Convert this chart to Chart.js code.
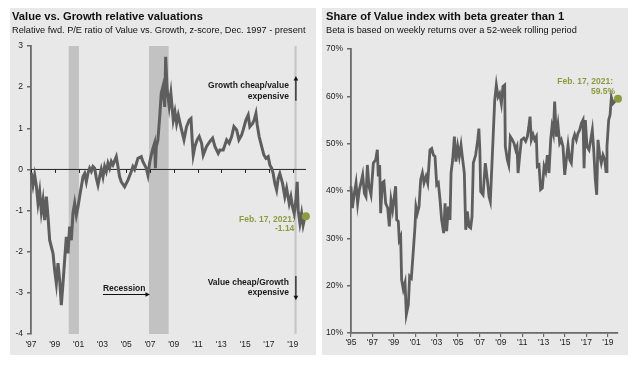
<!DOCTYPE html>
<html>
<head>
<meta charset="utf-8">
<script src="https://cdn.jsdelivr.net/npm/chart.js@4.4.1/dist/chart.umd.min.js"></script>
<style>
  body { margin: 0; background: #fff; width: 640px; height: 365px; position: relative; overflow: hidden;
         font-family: "Liberation Sans", Arial, sans-serif; }
  .panel { position: absolute; top: 8px; width: 306px; height: 347px; background: #e8e8e8; }
  #left-panel { left: 10px; }
  #right-panel { left: 322px; }
  .title { position: absolute; font-weight: bold; font-size: 11.2px; line-height: 13px; color: #111; white-space: nowrap; }
  .subtitle { position: absolute; font-size: 9.2px; line-height: 11px; color: #111; white-space: nowrap; }
  canvas { position: absolute; left: 0; top: 0; }
</style>
</head>
<body>
<div class="panel" id="left-panel">
  <canvas id="valuation-chart" width="306" height="347"></canvas>
  <div class="title" style="left:2px;top:2px">Value vs. Growth relative valuations</div>
  <div class="subtitle" style="left:2px;top:17px">Relative fwd. P/E ratio of Value vs. Growth, z-score, Dec. 1997 - present</div>
</div>
<div class="panel" id="right-panel">
  <canvas id="beta-chart" width="306" height="347"></canvas>
  <div class="title" style="left:4px;top:2px">Share of Value index with beta greater than 1</div>
  <div class="subtitle" style="left:4px;top:17px">Beta is based on weekly returns over a 52-week rolling period</div>
</div>

<script>
const FONT = '"Liberation Sans", Arial, sans-serif';
const OLIVE = "#8d9a3f";
const LINE_COLOR = "#5e5e5e";
const AXIS_COLOR = "#6a6a6a";

// ---- left chart data (x = position on the chart's year axis) ----
const valuationDates = [
  1997.02, 1997.17, 1997.31, 1997.45, 1997.59, 1997.73, 1997.87, 1998.01, 1998.15, 1998.29,
  1998.43, 1998.57, 1998.85, 1998.99, 1999.13, 1999.27, 1999.41, 1999.55, 1999.69, 1999.83,
  1999.97, 2000.11, 2000.25, 2000.39, 2000.53, 2000.67, 2000.81, 2000.95, 2001.09, 2001.23,
  2001.37, 2001.51, 2001.65, 2001.79, 2001.93, 2002.07, 2002.21, 2002.35, 2002.49, 2002.63,
  2002.77, 2002.91, 2003.05, 2003.19, 2003.33, 2003.47, 2003.61, 2003.75, 2003.89, 2004.17,
  2004.31, 2004.45, 2004.59, 2004.87, 2005.15, 2005.43, 2005.57, 2005.71, 2005.99, 2006.27,
  2006.41, 2006.55, 2006.69, 2006.83, 2006.97, 2007.11, 2007.25, 2007.39, 2007.46, 2007.53,
  2007.67, 2007.82, 2007.95, 2008.09, 2008.24, 2008.32, 2008.45, 2008.62, 2008.76, 2008.96,
  2009.10, 2009.24, 2009.38, 2009.66, 2009.86, 2010.08, 2010.30, 2010.45, 2010.55, 2010.64,
  2010.78, 2010.97, 2011.14, 2011.34, 2011.48, 2011.76, 2012.04, 2012.27, 2012.46, 2012.74,
  2012.88, 2013.16, 2013.45, 2013.66, 2013.87, 2014.06, 2014.29, 2014.48, 2014.71, 2014.84,
  2015.07, 2015.26, 2015.40, 2015.63, 2015.76, 2015.91, 2016.02, 2016.18, 2016.39, 2016.58,
  2016.75, 2016.94, 2017.08, 2017.23, 2017.36, 2017.50, 2017.65, 2017.78, 2017.92, 2018.15,
  2018.34, 2018.49, 2018.71, 2018.85, 2018.99, 2019.13, 2019.27, 2019.38, 2019.46, 2019.61,
  2019.75, 2019.88, 2020.03, 2020.11
];
const valuationValues = [
  -0.08, -0.38, -0.14, -0.40, -0.82, -0.54, -1.03, -0.75, -1.23, -0.66,
  -1.15, -1.72, -2.04, -2.45, -2.77, -2.28, -2.69, -3.30, -2.77, -2.20,
  -1.64, -2.04, -1.39, -1.72, -1.06, -0.82, -1.11, -0.91, -0.66, -0.42,
  -0.18, -0.10, -0.30, -0.09, 0.03, -0.05, 0.07, 0.03, -0.21, -0.38,
  -0.18, 0.00, -0.18, 0.07, -0.05, 0.15, 0.03, 0.19, 0.11, 0.31,
  0.07, -0.18, -0.30, -0.42, -0.26, -0.05, 0.07, 0.00, 0.27, 0.31,
  0.19, 0.11, 0.03, -0.14, 0.15, 0.35, 0.51, 0.64, 0.03, 0.55,
  0.72, 1.28, 1.85, 2.01, 1.52, 2.74, 1.93, 1.53, 1.85, 1.20,
  1.40, 1.12, 1.32, 0.96, 0.72, 1.04, 1.20, 1.24, 0.72, 0.35,
  0.56, 0.72, 0.80, 0.64, 0.35, 0.56, 0.68, 0.76, 0.56, 0.39,
  0.47, 0.47, 0.72, 0.64, 0.80, 1.04, 0.96, 0.72, 0.84, 0.96,
  1.20, 1.32, 1.04, 1.12, 1.20, 1.36, 1.08, 0.80, 0.56, 0.35,
  0.27, 0.31, 0.11, 0.03, -0.10, -0.34, -0.50, -0.22, -0.10, -0.34,
  -0.66, -0.46, -0.83, -0.66, -0.91, -1.07, -0.75, -0.30, -0.99, -1.31,
  -1.07, -1.35, -1.15, -1.14
];
const valuationTickYears = [1997, 1999, 2001, 2003, 2005, 2007, 2009, 2011, 2013, 2015, 2017, 2019];
const valuationTickLabels = ["'97", "'99", "'01", "'03", "'05", "'07", "'09", "'11", "'13", "'15", "'17", "'19"];
const recessionStarts = [2000.17, 2006.92, 2019.15];
const recessionEnds = [2001.03, 2008.57, 2019.33];

// ---- right chart data ----
const betaDates = [
  1995.00, 1995.13, 1995.31, 1995.47, 1995.62, 1995.78, 1995.93, 1996.09, 1996.25, 1996.40,
  1996.53, 1996.68, 1996.87, 1997.09, 1997.31, 1997.46, 1997.55, 1997.68, 1997.77, 1997.93,
  1998.08, 1998.24, 1998.43, 1998.58, 1998.74, 1998.89, 1999.05, 1999.17, 1999.27, 1999.42,
  1999.51, 1999.64, 1999.73, 1999.89, 2000.05, 2000.17, 2000.36, 2000.48, 2000.64, 2000.83,
  2000.98, 2001.07, 2001.20, 2001.36, 2001.51, 2001.67, 2001.82, 2002.01, 2002.17, 2002.38,
  2002.54, 2002.70, 2002.85, 2003.01, 2003.16, 2003.32, 2003.47, 2003.66, 2003.79, 2003.94,
  2004.10, 2004.25, 2004.35, 2004.50, 2004.66, 2004.81, 2004.97, 2005.12, 2005.28, 2005.40,
  2005.59, 2005.72, 2005.87, 2006.03, 2006.18, 2006.31, 2006.43, 2006.65, 2006.84, 2006.95,
  2007.04, 2007.12, 2007.34, 2007.55, 2007.74, 2007.90, 2008.02, 2008.27, 2008.43, 2008.58,
  2008.74, 2008.89, 2009.05, 2009.20, 2009.36, 2009.42, 2009.61, 2009.74, 2009.89, 2010.08,
  2010.23, 2010.39, 2010.51, 2010.61, 2010.76, 2010.92, 2011.14, 2011.32, 2011.48, 2011.60,
  2011.73, 2011.85, 2012.01, 2012.16, 2012.32, 2012.41, 2012.57, 2012.72, 2012.88, 2013.04,
  2013.19, 2013.35, 2013.50, 2013.66, 2013.78, 2013.91, 2014.03, 2014.19, 2014.34, 2014.50,
  2014.65, 2014.81, 2014.97, 2015.12, 2015.28, 2015.44, 2015.59, 2015.75, 2015.90, 2016.06,
  2016.21, 2016.37, 2016.53, 2016.68, 2016.78, 2016.90, 2017.05, 2017.24, 2017.40, 2017.55,
  2017.68, 2017.83, 2017.96, 2018.08, 2018.24, 2018.39, 2018.55, 2018.71, 2018.83, 2018.92,
  2019.08, 2019.21, 2019.33, 2019.49, 2019.64, 2019.80, 2019.95
];
const betaValues = [
  41.0, 36.4, 39.5, 41.7, 37.4, 40.3, 41.7, 43.4, 39.5, 38.8,
  45.5, 41.0, 39.2, 45.9, 46.6, 48.7, 43.1, 45.5, 35.3, 41.7,
  42.0, 37.4, 36.4, 32.5, 38.1, 36.0, 38.8, 41.0, 33.9, 33.6,
  29.7, 30.4, 21.3, 19.2, 20.6, 13.9, 16.0, 22.0, 21.6, 27.6,
  32.5, 36.7, 35.3, 36.7, 42.4, 43.8, 41.7, 43.1, 41.7, 48.7,
  49.0, 47.6, 47.3, 41.3, 41.7, 38.1, 33.9, 31.1, 37.4, 31.5,
  36.7, 33.9, 43.8, 46.6, 51.5, 46.2, 49.4, 47.3, 49.7, 47.3,
  43.8, 31.8, 35.7, 32.5, 32.2, 34.6, 45.9, 47.6, 50.8, 53.2,
  48.7, 39.9, 39.2, 45.9, 42.4, 38.8, 37.8, 50.8, 59.2, 62.4,
  59.9, 60.6, 58.5, 62.1, 62.4, 49.4, 46.6, 45.5, 51.5, 50.8,
  50.1, 48.7, 49.4, 43.8, 47.3, 50.8, 51.2, 50.5, 51.5, 53.3,
  55.7, 50.8, 51.9, 50.8, 51.5, 45.2, 45.5, 40.3, 40.6, 45.2,
  44.1, 47.6, 43.8, 50.8, 53.6, 52.2, 58.9, 51.5, 54.0, 50.1,
  50.8, 49.4, 43.4, 46.6, 49.7, 46.6, 45.9, 50.8, 51.9, 50.8,
  52.2, 52.9, 54.3, 55.0, 44.8, 55.0, 49.4, 48.7, 50.8, 52.9,
  48.7, 42.4, 39.2, 50.8, 47.6, 45.9, 47.6, 46.6, 44.1, 49.4,
  55.0, 56.1, 59.8, 58.5, 58.9, 59.4, 59.5
];
const betaTickYears = [1995, 1997, 1999, 2001, 2003, 2005, 2007, 2009, 2011, 2013, 2015, 2017, 2019];
const betaTickLabels = ["'95", "'97", "'99", "'01", "'03", "'05", "'07", "'09", "'11", "'13", "'15", "'17", "'19"];

// annotation placement, in data units of each chart
const valuationNotes = {
  texts: [
    { x: 2018.68, y: 2.03, text: "Growth cheap/value", color: "#1a1a1a" },
    { x: 2018.68, y: 1.78, text: "expensive", color: "#1a1a1a" },
    { x: 2018.68, y: -2.76, text: "Value cheap/Growth", color: "#1a1a1a" },
    { x: 2018.68, y: -3.0, text: "expensive", color: "#1a1a1a" },
    { x: 2019.18, y: -1.21, text: "Feb. 17, 2021:", color: OLIVE },
    { x: 2019.14, y: -1.45, text: "-1.14", color: OLIVE },
  ],
  leftTexts: [{ x: 2003.05, y: -2.89, text: "Recession", color: "#1a1a1a" }],
  arrows: [
    { x1: 2019.27, y1: 1.67, x2: 2019.27, y2: 2.27 },
    { x1: 2019.27, y1: -2.59, x2: 2019.27, y2: -3.18 },
    { x1: 2003.05, y1: -3.04, x2: 2007.0, y2: -3.04 },
  ],
};
const betaNotes = {
  texts: [
    { x: 2019.49, y: 63.1, text: "Feb. 17, 2021:", color: OLIVE },
    { x: 2019.67, y: 60.9, text: "59.5%", color: OLIVE },
  ],
  leftTexts: [],
  arrows: [],
};

function drawArrow(ctx, x1, y1, x2, y2) {
  const angle = Math.atan2(y2 - y1, x2 - x1);
  const head = 4.5;
  ctx.strokeStyle = "#111";
  ctx.fillStyle = "#111";
  ctx.lineWidth = 1.2;
  ctx.beginPath();
  ctx.moveTo(x1, y1);
  ctx.lineTo(x2 - Math.cos(angle) * head * 0.8, y2 - Math.sin(angle) * head * 0.8);
  ctx.stroke();
  ctx.beginPath();
  ctx.moveTo(x2, y2);
  ctx.lineTo(x2 - head * Math.cos(angle) + 2.3 * Math.sin(angle), y2 - head * Math.sin(angle) - 2.3 * Math.cos(angle));
  ctx.lineTo(x2 - head * Math.cos(angle) - 2.3 * Math.sin(angle), y2 - head * Math.sin(angle) + 2.3 * Math.cos(angle));
  ctx.closePath();
  ctx.fill();
}

const recessionPlugin = {
  id: "recessions",
  beforeDatasetsDraw(chart) {
    const { ctx, chartArea, scales } = chart;
    ctx.save();
    recessionStarts.forEach((start, i) => {
      const x1 = scales.x.getPixelForValue(start);
      const x2 = scales.x.getPixelForValue(recessionEnds[i]);
      ctx.fillStyle = i === 2 ? "#c6c6c6" : "#c2c2c2";
      ctx.fillRect(x1, chartArea.top, x2 - x1, chartArea.bottom - chartArea.top);
    });
    // zero line with its tick marks
    const y0 = scales.y.getPixelForValue(0);
    ctx.strokeStyle = "#222";
    ctx.lineWidth = 1;
    ctx.beginPath();
    ctx.moveTo(chartArea.left, y0);
    ctx.lineTo(chartArea.right, y0);
    valuationTickYears.forEach((year) => {
      const x = Math.round(scales.x.getPixelForValue(year)) + 0.5;
      ctx.moveTo(x, y0);
      ctx.lineTo(x, y0 + 3.5);
    });
    ctx.stroke();
    ctx.restore();
  },
};

const notesPlugin = {
  id: "notes",
  afterDatasetsDraw(chart, args, opts) {
    const notes = opts.notes;
    if (!notes) return;
    const { ctx, scales } = chart;
    ctx.save();
    ctx.font = "bold 8.5px " + FONT;
    ctx.textBaseline = "middle";
    ctx.textAlign = "right";
    notes.texts.forEach((t) => {
      ctx.fillStyle = t.color;
      ctx.fillText(t.text, scales.x.getPixelForValue(t.x), scales.y.getPixelForValue(t.y));
    });
    ctx.textAlign = "left";
    notes.leftTexts.forEach((t) => {
      ctx.fillStyle = t.color;
      ctx.fillText(t.text, scales.x.getPixelForValue(t.x), scales.y.getPixelForValue(t.y));
    });
    notes.arrows.forEach((a) => {
      drawArrow(ctx,
        scales.x.getPixelForValue(a.x1), scales.y.getPixelForValue(a.y1),
        scales.x.getPixelForValue(a.x2), scales.y.getPixelForValue(a.y2));
    });
    ctx.restore();
  },
};

function toPoints(dates, values) {
  return dates.map((d, i) => ({ x: d, y: values[i] }));
}

function lastPointOnly(size) {
  return (context) => (context.dataIndex === context.dataset.data.length - 1 ? size : 0);
}

const tickFont = { family: FONT, size: 8.5 };

new Chart(document.getElementById("valuation-chart"), {
  type: "line",
  data: {
    datasets: [{
      data: toPoints(valuationDates, valuationValues),
      borderColor: LINE_COLOR,
      borderWidth: 3,
      tension: 0,
      clip: false,
      pointRadius: lastPointOnly(4),
      pointHoverRadius: 0,
      pointBackgroundColor: OLIVE,
      pointBorderWidth: 0,
    }],
  },
  options: {
    responsive: false,
    animation: false,
    events: [],
    layout: { padding: { left: 2, top: 38, right: 10, bottom: 0 } },
    plugins: { legend: { display: false }, tooltip: { enabled: false }, notes: { notes: valuationNotes } },
    scales: {
      x: {
        type: "linear",
        min: 1997,
        max: 2020.12,
        afterBuildTicks: (scale) => { scale.ticks = valuationTickYears.map((v) => ({ value: v })); },
        afterFit: (scale) => { scale.height = 21; },
        grid: { display: false, drawTicks: false },
        border: { display: false },
        ticks: {
          autoSkip: false, maxRotation: 0, padding: 6, color: "#222", font: tickFont,
          callback: (value, index) => valuationTickLabels[index],
        },
      },
      y: {
        min: -4,
        max: 3,
        afterFit: (scale) => { scale.width = 19; },
        ticks: { stepSize: 1, padding: 4, color: "#222", font: tickFont },
        grid: { drawOnChartArea: false, tickLength: 4, color: AXIS_COLOR, lineWidth: 1.5 },
        border: { color: AXIS_COLOR, width: 1.8 },
      },
    },
  },
  plugins: [recessionPlugin, notesPlugin],
});

new Chart(document.getElementById("beta-chart"), {
  type: "line",
  data: {
    datasets: [{
      data: toPoints(betaDates, betaValues),
      borderColor: LINE_COLOR,
      borderWidth: 2.8,
      tension: 0,
      clip: false,
      pointRadius: lastPointOnly(4),
      pointHoverRadius: 0,
      pointBackgroundColor: OLIVE,
      pointBorderWidth: 0,
    }],
  },
  options: {
    responsive: false,
    animation: false,
    events: [],
    layout: { padding: { left: 2, top: 41, right: 10, bottom: 0 } },
    plugins: { legend: { display: false }, tooltip: { enabled: false }, notes: { notes: betaNotes } },
    scales: {
      x: {
        type: "linear",
        min: 1995,
        max: 2019.95,
        afterBuildTicks: (scale) => { scale.ticks = betaTickYears.map((v) => ({ value: v })); },
        afterFit: (scale) => { scale.height = 22; },
        grid: { drawOnChartArea: false, tickLength: 4, color: AXIS_COLOR, lineWidth: 1.2 },
        border: { color: AXIS_COLOR, width: 1.8 },
        ticks: {
          autoSkip: false, maxRotation: 0, padding: 1, color: "#222", font: tickFont,
          callback: (value, index) => betaTickLabels[index],
        },
      },
      y: {
        min: 10,
        max: 70,
        afterFit: (scale) => { scale.width = 27; },
        ticks: { stepSize: 10, padding: 4, color: "#222", font: tickFont, callback: (v) => v + "%" },
        grid: { drawOnChartArea: false, tickLength: 4, color: AXIS_COLOR, lineWidth: 1.5 },
        border: { color: AXIS_COLOR, width: 1.8 },
      },
    },
  },
  plugins: [notesPlugin],
});
</script>
</body>
</html>
